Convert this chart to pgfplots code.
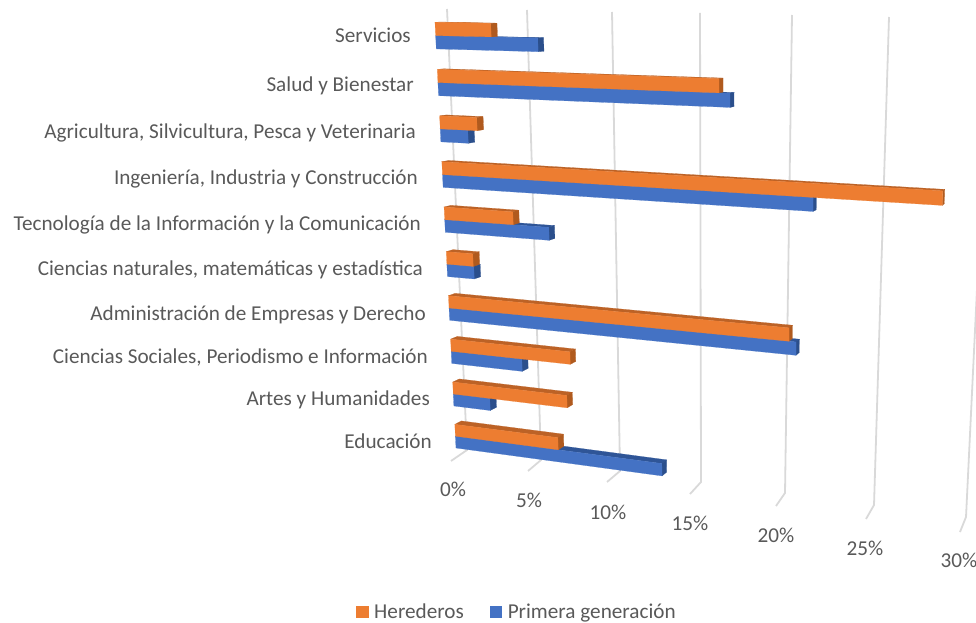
\documentclass[border=0pt]{standalone}
\usepackage{pgfplots}
\usepackage{pgfplotstable}
\usepackage{fontspec}
\setmainfont{Carlito}
\pgfplotsset{compat=1.18}
\definecolor{orF}{HTML}{ED7D31}
\definecolor{orT}{HTML}{BC6226}
\definecolor{orE}{HTML}{B05A1E}
\definecolor{blF}{HTML}{4472C4}
\definecolor{blT}{HTML}{2F5597}
\definecolor{blE}{HTML}{2B4F8C}
\definecolor{txt}{HTML}{595959}
\definecolor{grd}{HTML}{D9D9D9}
% row (0 = bottom), Herederos %, Primera generacion %
\pgfplotstableread{
c  her   pri
0  6.70  13.09
1  7.35  2.40
2  7.63  4.58
3  20.46 20.85
4  1.71  1.74
5  4.37  6.57
6  28.40 21.73
7  2.35  1.75
8  16.64 17.24
9  3.47  6.29
}\datatab
% perspective of the bar plane: value v (percent), height w (0..1)
\newcommand\proj[2]{%
  \pgfmathsetmacro\den{1-0.12126*(#1)/30-0.06272*(#2)}%
  \pgfmathsetmacro\xr{(392*(#1)/30-48.28*(#2)+456)/\den}%
  \pgfmathsetmacro\yr{(6.31*(#1)/30-427.38*(#2)+448)/\den}%
}
\newcommand\backp{%
  \pgfmathsetmacro\xb{\xr+0.0095*(1150-\xr)}%
  \pgfmathsetmacro\yb{\yr*0.992}%
}
\newcommand\poly[2]{\edef\tmp{\noexpand\addplot[forget plot,draw=#1,line width=0.2pt,fill=#1] coordinates {#2} -- cycle;}\tmp}
% value, lower w, upper w, front, top, end colours
\newcommand\drawbar[6]{%
  \proj{0}{#3}\backp\let\ax\xr\let\ay\yr\let\aax\xb\let\aay\yb
  \proj{#1}{#3}\backp\let\bx\xr\let\by\yr\let\bbx\xb\let\bby\yb
  \proj{#1}{#2}\backp\let\cx\xr\let\cy\yr\let\ccx\xb\let\ccy\yb
  \proj{0}{#2}\let\dx\xr\let\dy\yr
  \poly{#5}{(\ax,\ay)(\bx,\by)(\bbx,\bby)(\aax,\aay)}%
  \poly{#6}{(\bx,\by)(\cx,\cy)(\ccx,\ccy)(\bbx,\bby)}%
  \poly{#4}{(\ax,\ay)(\bx,\by)(\cx,\cy)(\dx,\dy)}%
}
\begin{document}
\begin{tikzpicture}
\clip (0,0) rectangle (976pt,623pt);
\begin{axis}[
  at={(0,0)},anchor=south west,
  scale only axis,width=976pt,height=623pt,
  xmin=0,xmax=976,ymin=0,ymax=623,y dir=reverse,
  hide axis,clip=false,
  legend columns=2,
  legend style={draw=none,fill=none,font=\fontsize{21.2}{23}\selectfont\color{txt},
    at={(axis cs:517,611.5)},anchor=center,inner ysep=0pt,
    nodes={inner ysep=0pt},
    /tikz/every odd column/.append style={column sep=4pt},
    /tikz/every even column/.append style={column sep=24pt}},
  legend image code/.code={\fill[#1] (0pt,-5.5pt) rectangle (11.5pt,5.5pt);},
]
\addlegendimage{orF}\addlegendentry{Herederos}
\addlegendimage{blF}\addlegendentry{Primera generación}
% gridlines
\addplot[forget plot,grd,line width=1.8pt] coordinates {(447,9)(467,450)(451,461)};
\addplot[forget plot,grd,line width=1.8pt] coordinates {(527,10)(541,460)(528,471)};
\addplot[forget plot,grd,line width=1.8pt] coordinates {(612,12)(620,471)(607,482)};
\addplot[forget plot,grd,line width=1.8pt] coordinates {(700,13)(701,482)(690,494)};
\addplot[forget plot,grd,line width=1.8pt] coordinates {(792,15)(785,493)(776,506)};
\addplot[forget plot,grd,line width=1.8pt] coordinates {(889,17)(874,505)(866,519)};
\addplot[forget plot,grd,line width=1.8pt] coordinates {(990,19)(966,517)(960,532)};
% bars
\pgfplotsforeachungrouped \r in {9,8,...,0}{%
  \pgfplotstablegetelem{\r}{her}\of\datatab\let\vh\pgfplotsretval
  \pgfplotstablegetelem{\r}{pri}\of\datatab\let\vp\pgfplotsretval
  \pgfmathsetmacro\wa{0.1045*\r}%
  \pgfmathsetmacro\wb{\wa+0.0295}%
  \pgfmathsetmacro\wc{\wa+0.059}%
  \drawbar{\vp}{\wa}{\wb}{blF}{blT}{blE}%
  \drawbar{\vh}{\wb}{\wc}{orF}{orT}{orE}%
}
% labels
\begin{scope}[every node/.style={text=txt,font=\fontsize{21.2}{23}\selectfont,inner sep=0pt}]
\node[anchor=base east] at (axis cs:411,43) {Servicios};
\node[anchor=base east] at (axis cs:414,92) {Salud y Bienestar};
\node[anchor=base east] at (axis cs:416,138) {Agricultura, Silvicultura, Pesca y Veterinaria};
\node[anchor=base east] at (axis cs:418,184) {Ingeniería, Industria y Construcción};
\node[anchor=base east] at (axis cs:421,230) {Tecnología de la Información y la Comunicación};
\node[anchor=base east] at (axis cs:423,275.5) {Ciencias naturales, matemáticas y estadística};
\node[anchor=base east] at (axis cs:426,320) {Administración de Empresas y Derecho};
\node[anchor=base east] at (axis cs:428,363) {Ciencias Sociales, Periodismo e Información};
\node[anchor=base east] at (axis cs:430,405) {Artes y Humanidades};
\node[anchor=base east] at (axis cs:432,448) {Educación};
\node at (axis cs:453,489) {0\%};
\node at (axis cs:529,500) {5\%};
\node at (axis cs:608,512) {10\%};
\node at (axis cs:690,523) {15\%};
\node at (axis cs:776,535) {20\%};
\node at (axis cs:865,548) {25\%};
\node at (axis cs:959,560) {30\%};
\end{scope}
\end{axis}
\end{tikzpicture}
\end{document}
